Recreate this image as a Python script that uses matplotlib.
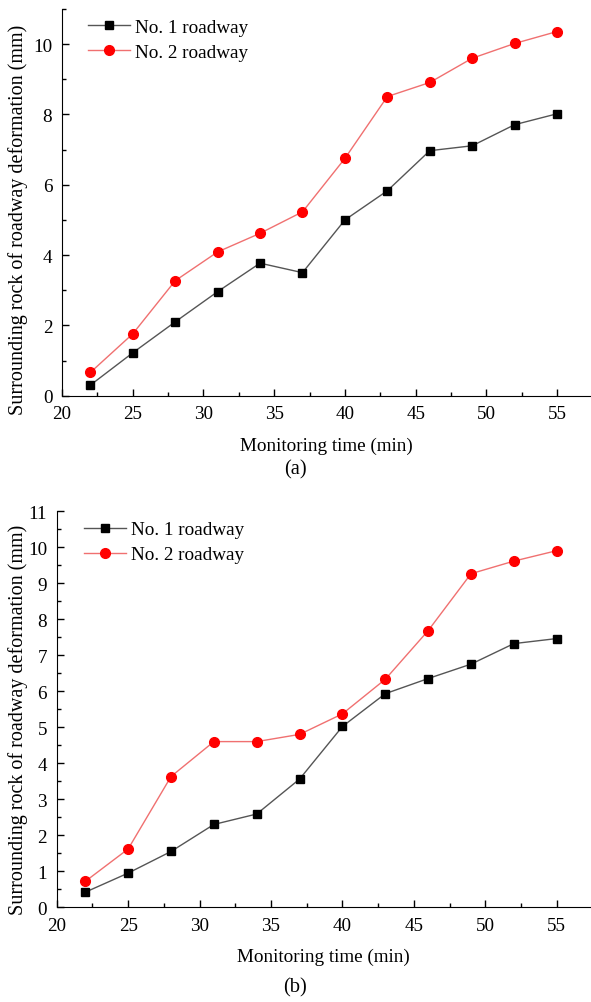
import numpy as np
import matplotlib.pyplot as plt
from matplotlib.ticker import MultipleLocator

plt.rcParams['font.family'] = ['Liberation Serif', 'DejaVu Serif']

# monitoring times (min)
time_min = [22, 25, 28, 31, 34, 37, 40, 43, 46, 49, 52, 55]

# panel (a)
a_road1 = [0.30, 1.22, 2.10, 2.96, 3.77, 3.50, 5.00, 5.83, 6.97, 7.11, 7.71, 8.02]
a_road2 = [0.66, 1.76, 3.27, 4.09, 4.62, 5.23, 6.75, 8.51, 8.91, 9.60, 10.02, 10.36]

# panel (b)
b_road1 = [0.42, 0.95, 1.55, 2.30, 2.59, 3.56, 5.02, 5.93, 6.35, 6.75, 7.32, 7.46]
b_road2 = [0.72, 1.62, 3.63, 4.60, 4.60, 4.80, 5.37, 6.33, 7.68, 9.26, 9.61, 9.90]

fig = plt.figure(figsize=(5.91, 10.03), dpi=100)
ax_a = fig.add_axes([0.105, 0.6045, 0.895, 0.3855])
ax_b = fig.add_axes([0.096, 0.0944, 0.904, 0.3951])

fs = 13.8

def style(ax, y1, y2, ymajor, yminor, lab, lab_y, leg_x, ylab_pos):
    ax.plot(time_min, y1, color='#555555', lw=1.0, marker='s', ms=6,
            mfc='black', mec='black', label='No. 1 roadway')
    ax.plot(time_min, y2, color='#f07070', lw=1.0, marker='o', ms=7,
            mfc='#ff0000', mec='#ff0000', label='No. 2 roadway')
    ax.set_xlim(20, 57.4)
    ax.set_ylim(0, 11)
    ax.xaxis.set_major_locator(MultipleLocator(5))
    ax.xaxis.set_minor_locator(MultipleLocator(2.5))
    ax.yaxis.set_major_locator(MultipleLocator(ymajor))
    ax.yaxis.set_minor_locator(MultipleLocator(yminor))
    ax.spines['top'].set_visible(False)
    ax.spines['right'].set_visible(False)
    ax.tick_params(which='both', direction='in', labelsize=fs, width=1.0)
    ax.tick_params(which='major', length=5, pad=7)
    ax.tick_params(which='minor', length=3)
    ax.set_xlabel('Monitoring time (min)', fontsize=fs, labelpad=10)
    ax.set_ylabel('Surrounding rock of roadway deformation (mm)', fontsize=14.5)
    ax.yaxis.set_label_coords(*ylab_pos)
    ax.legend(loc='upper left', bbox_to_anchor=(leg_x, 0.975), frameon=False,
              fontsize=fs, handlelength=2.2, handletextpad=0.25, labelspacing=0.4,
              borderaxespad=0, borderpad=0)
    fig.text(0.5, lab_y, lab, ha='center', va='center', fontsize=fs + 1)

style(ax_a, a_road1, a_road2, 2, 1, '(a)', 1 - 470 / 1003, 26 / 529, (-0.064, 0.457))
style(ax_b, b_road1, b_road2, 1, 0.5, '(b)', 1 - 988 / 1003, 27 / 534, (-0.054, 0.475))

fig.savefig('out.png', dpi=100)
